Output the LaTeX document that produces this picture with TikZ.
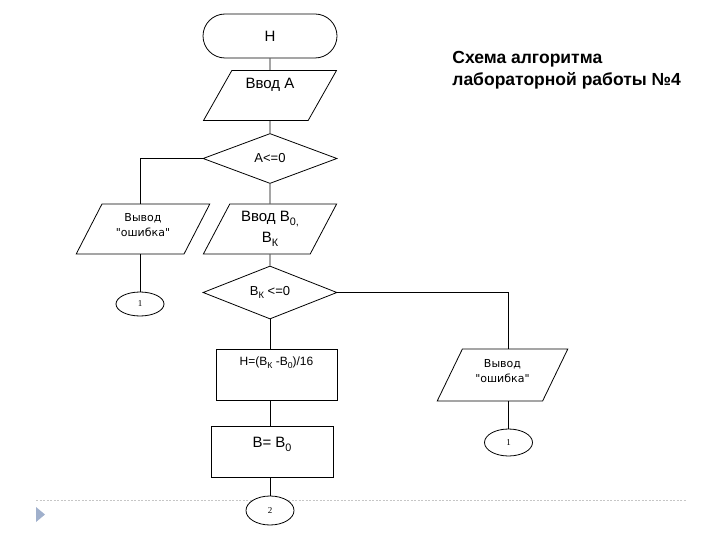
\documentclass[tikz,border=0pt]{standalone}
\usepackage{fontspec}
\setmainfont{Liberation Sans}
\newfontfamily\numfont{Liberation Serif}
\newfontfamily\msgfont{DejaVu Sans}
\usetikzlibrary{shapes.geometric,positioning}

\definecolor{slideblue}{RGB}{160,176,204}
\newcommand{\lowidx}[1]{\raisebox{-0.55ex}{\scalebox{0.72}{#1}}}

\begin{document}
\begin{tikzpicture}[x=1pt,y=-1pt,line width=0.8pt,
    term/.style={draw,rounded corners=22pt,minimum width=134pt,minimum height=44pt,font=\fontsize{15}{18}\selectfont},
    iobox/.style={draw,trapezium,trapezium left angle=62,trapezium right angle=118,trapezium stretches=true,
        minimum width=134pt,minimum height=50pt,inner sep=0pt,align=center},
    decision/.style={draw,diamond,minimum width=134pt,minimum height=50pt,inner sep=0pt,font=\fontsize{13}{16}\selectfont},
    procbox/.style={draw,rectangle,minimum height=51pt,inner sep=0pt},
    connect/.style={draw,ellipse,fill=white,minimum width=48pt,minimum height=26pt,inner sep=0pt,font=\numfont\fontsize{9}{11}\selectfont},
    errtext/.style={font=\msgfont\fontsize{11}{15}\selectfont}]

\useasboundingbox (0,0) rectangle (720,540);

\draw[gray!45,line width=0.6pt,dash pattern=on 2pt off 1.5pt] (36,500) -- (686,500);
\fill[slideblue] (36,507) -- (45,514.5) -- (36,522) -- cycle;

\node[term] (start) at (270,36) {Н};
\node[iobox,font=\fontsize{15}{18}\selectfont,text height=10pt,text depth=24pt] (inA) at (270,95.5) {Ввод А};
\node[decision] (condA) at (270,158.5) {A<=0};
\node[iobox,errtext] (errA) at (143,229) {Вывод\\"ошибка"\\[-6pt]\mbox{}};
\node[iobox,font=\fontsize{15}{21}\selectfont] (inB) at (270,229) {Ввод B\lowidx{0,}\\B\lowidx{К}};
\node[decision] (condB) at (270,292.5) {B\lowidx{К} <=0};
\node[procbox,minimum width=121pt,font=\fontsize{12}{14}\selectfont,text height=9pt,text depth=27pt] (calcH) at (276.5,374.5) {H=(B\lowidx{К} -B\lowidx{0})/16};
\node[procbox,minimum width=122pt,font=\fontsize{15}{18}\selectfont,text height=11pt,text depth=19pt] (setB) at (272,451.5) {B= B\lowidx{0}};
\node[connect,minimum height=29pt] (goB) at (270,510.5) {2};
\node[connect,minimum height=24pt] (goA) at (140,304) {1};
\node[iobox,errtext,minimum width=131pt,minimum height=52pt] (errB) at (502.5,375) {Вывод\\"ошибка"\\[-6pt]\mbox{}};
\node[connect,minimum height=27pt] (goC) at (508.5,442.5) {1};

\node[anchor=north west,inner sep=0pt,align=left,font=\bfseries\fontsize{17.5}{22}\selectfont] (title) at (452,51)
    {Схема алгоритма\\лабораторной работы №4};

\draw (start) -- (inA);
\draw (inA) -- (condA);
\draw (condA.west) -| (goA |- errA.north);
\draw (goA |- errA.south) -- (goA);
\draw (condA) -- (inB);
\draw (inB) -- (condB);
\draw (condB.east) -| (goC |- errB.north);
\draw (goC |- errB.south) -- (goC);
\draw (condB.south) -- (condB.south |- calcH.north);
\draw (calcH.south -| goB) -- (setB.north -| goB);
\draw (setB.south -| goB) -- (goB);

\end{tikzpicture}
\end{document}
